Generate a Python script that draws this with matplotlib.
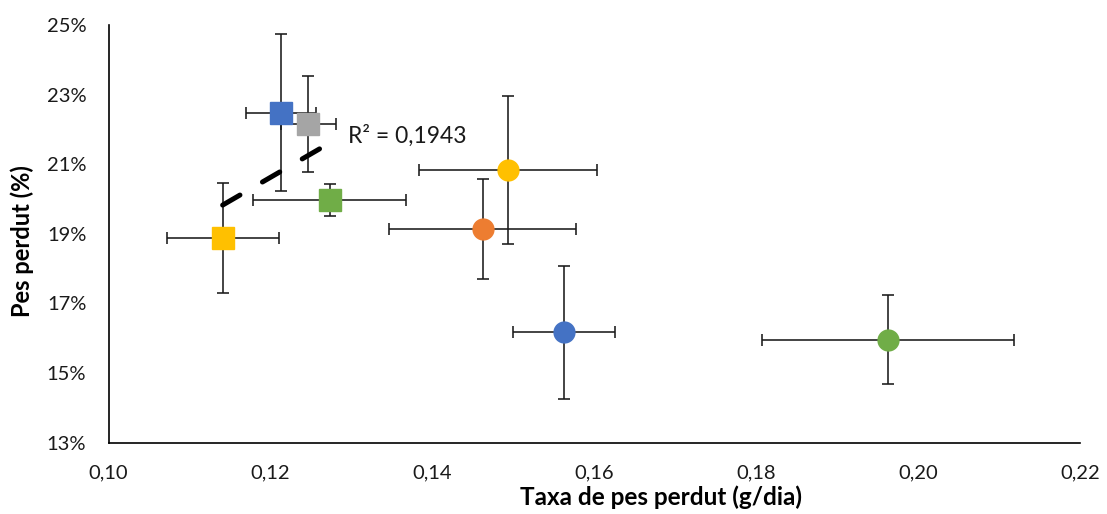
import numpy as np
import matplotlib
matplotlib.use("Agg")
import matplotlib.pyplot as plt
from matplotlib.ticker import FuncFormatter

plt.rcParams['font.family'] = ['Lato', 'DejaVu Sans']

# Square series (with linear trendline)
sq_rate = [0.1213, 0.1247, 0.1273, 0.1141]
sq_loss = [22.48, 22.16, 19.96, 18.88]
sq_rate_err = [0.0043, 0.0034, 0.0095, 0.0069]
sq_loss_err = [2.26, 1.38, 0.46, 1.57]
sq_colors = ['#4472C4', '#A5A5A5', '#70AD47', '#FFC000']

# Circle series
ci_rate = [0.1494, 0.1462, 0.1563, 0.1963]
ci_loss = [20.84, 19.14, 16.17, 15.96]
ci_rate_err = [0.0110, 0.0115, 0.0063, 0.0156]
ci_loss_err = [2.13, 1.43, 1.91, 1.28]
ci_colors = ['#FFC000', '#ED7D31', '#4472C4', '#70AD47']

x_ticks = [0.10, 0.12, 0.14, 0.16, 0.18, 0.20, 0.22]
y_ticks = [13, 15, 17, 19, 21, 23, 25]

r2_label = "R² = 0,1943"
x_label = "Taxa de pes perdut (g/dia)"
y_label = "Pes perdut (%)"

W, H = 1107, 514
fig = plt.figure(figsize=(W / 100, H / 100), dpi=100)
ax = fig.add_axes([108.5 / W, 1 - 442.5 / H, (1080 - 108.5) / W, (442.5 - 25) / H])

err_kw = dict(fmt='none', ecolor='#1a1a1a', elinewidth=1.15, capsize=4.3,
              capthick=1.15, zorder=2)

ax.errorbar(sq_rate, sq_loss, xerr=sq_rate_err, yerr=sq_loss_err, **err_kw)
ax.errorbar(ci_rate, ci_loss, xerr=ci_rate_err, yerr=ci_loss_err, **err_kw)

for x, y, c in zip(sq_rate, sq_loss, sq_colors):
    ax.plot(x, y, marker='s', ms=15.8, color=c, mec=c, ls='none', zorder=3)
for x, y, c in zip(ci_rate, ci_loss, ci_colors):
    ax.plot(x, y, marker='o', ms=15.0, color=c, mec=c, ls='none', zorder=3)

# Linear trendline across the square series
slope, intercept = np.polyfit(sq_rate, sq_loss, 1)
tx = np.array([min(sq_rate), max(sq_rate)])
ax.plot(tx, slope * tx + intercept, color='black', lw=3.6,
        dashes=(4.0, 5.2), dash_capstyle='round', solid_capstyle='round',
        zorder=4)
ax.text(0.1296, 21.60, r2_label, fontsize=16.5, ha='left', va='baseline',
        color='#1a1a1a', zorder=5)

ax.set_xlim(x_ticks[0], x_ticks[-1])
ax.set_ylim(y_ticks[0], y_ticks[-1])
ax.set_xticks(x_ticks)
ax.set_yticks(y_ticks)
ax.xaxis.set_major_formatter(FuncFormatter(lambda v, p: f"{v:.2f}".replace('.', ',')))
ax.yaxis.set_major_formatter(FuncFormatter(lambda v, p: f"{v:.0f}%"))

for s in ['top', 'right']:
    ax.spines[s].set_visible(False)
for s in ['left', 'bottom']:
    ax.spines[s].set_color('black')
    ax.spines[s].set_linewidth(1.2)

ax.tick_params(axis='both', length=0, labelsize=14.5, colors='#1a1a1a')
ax.tick_params(axis='x', pad=16)
ax.tick_params(axis='y', pad=16)

fig.text(661 / W, 1 - 504.7 / H, x_label, fontsize=17.5, fontweight='bold',
         ha='center', va='baseline', color='black')
fig.text(22 / W, 1 - 241.5 / H, y_label, fontsize=17, fontweight='bold',
         rotation=90, ha='center', va='center', color='black')

fig.savefig("out.png", dpi=100)
